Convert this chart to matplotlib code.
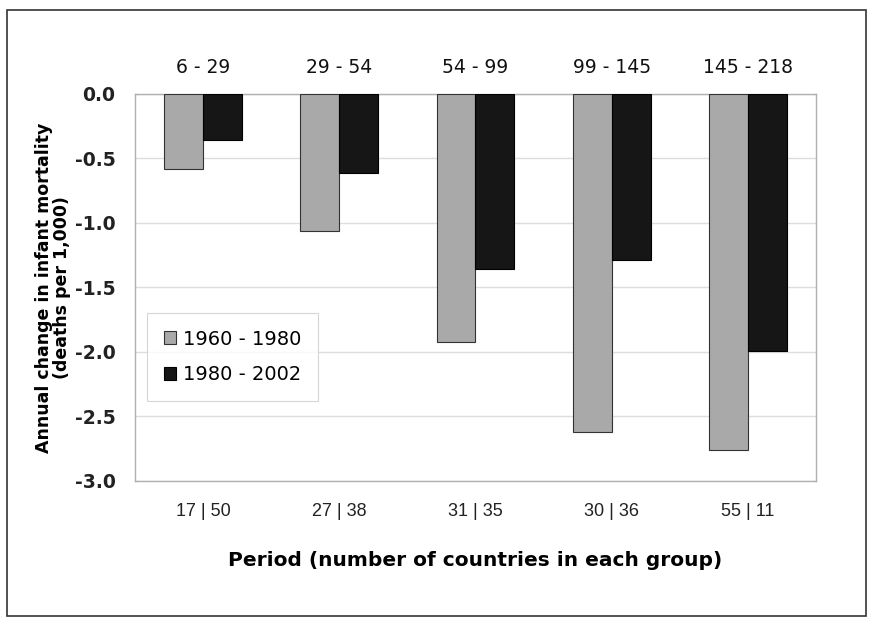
import matplotlib
matplotlib.use('Agg')
import matplotlib.pyplot as plt
from matplotlib.patches import Rectangle
import numpy as np

top_labels = ['6 - 29', '29 - 54', '54 - 99', '99 - 145', '145 - 218']
bottom_labels = ['17 | 50', '27 | 38', '31 | 35', '30 | 36', '55 | 11']
series_names = ['1960 - 1980', '1980 - 2002']
vals_1960 = [-0.58, -1.06, -1.92, -2.62, -2.76]
vals_1980 = [-0.36, -0.61, -1.36, -1.29, -1.99]


def main():
    fig = plt.figure(figsize=(8.7, 6.18), dpi=100)
    ax = fig.add_axes([0.155, 0.2217, 0.783, 0.6263])

    x = np.arange(len(top_labels))
    w = 0.285
    ax.bar(x - w/2, vals_1960, w, color='#a9a9a9', edgecolor='#333333', linewidth=0.8,
           label=series_names[0], zorder=3)
    ax.bar(x + w/2, vals_1980, w, color='#161616', edgecolor='#000000', linewidth=0.8,
           label=series_names[1], zorder=3)

    ax.set_xlim(-0.5, len(top_labels) - 0.5)
    ax.set_ylim(-3.0, 0.0)
    ax.set_yticks(np.arange(-3.0, 0.01, 0.5))
    ax.set_yticklabels([f'{v:.1f}' for v in np.arange(-3.0, 0.01, 0.5)],
                       fontsize=13.5, fontweight='bold', color='#222222')
    ax.yaxis.grid(True, color='#dddddd', linewidth=1, zorder=0)
    ax.tick_params(axis='y', length=0, pad=14)

    ax.set_xticks(x)
    ax.set_xticklabels(bottom_labels, fontsize=13, family='Liberation Sans', color='#222222')
    ax.tick_params(axis='x', length=0, pad=16)

    top = ax.secondary_xaxis('top')
    top.set_xticks(x, top_labels)
    top.tick_params(length=0, pad=12, labelsize=13.5)
    for lab in top.get_xticklabels():
        lab.set_color('#111111')
    top.spines['top'].set_visible(False)

    for s in ax.spines.values():
        s.set_color('#b0b0b0')
        s.set_linewidth(1)

    ax.set_xlabel('Period (number of countries in each group)', fontsize=14.5,
                  fontweight='bold', labelpad=22)
    ax.set_ylabel('Annual change in infant mortality\n(deaths per 1,000)', fontsize=12.5,
                  fontweight='bold', linespacing=1.0)
    ax.yaxis.set_label_coords(-0.093, 0.5)

    leg = ax.legend(loc='upper left', bbox_to_anchor=(0.018, 0.434), fontsize=14,
                    handlelength=0.65, handleheight=0.65, handletextpad=0.35,
                    borderpad=0.85, labelspacing=0.85, borderaxespad=0, fancybox=False)
    leg.get_frame().set_edgecolor('#cccccc')
    leg.get_frame().set_linewidth(0.8)

    fig.patches.append(Rectangle((7/870, 2/618), 859/870, 606/618, transform=fig.transFigure,
                                 fill=False, edgecolor='#333333', linewidth=1.2))

    plt.savefig('out.png', dpi=100)


if __name__ == '__main__':
    main()
